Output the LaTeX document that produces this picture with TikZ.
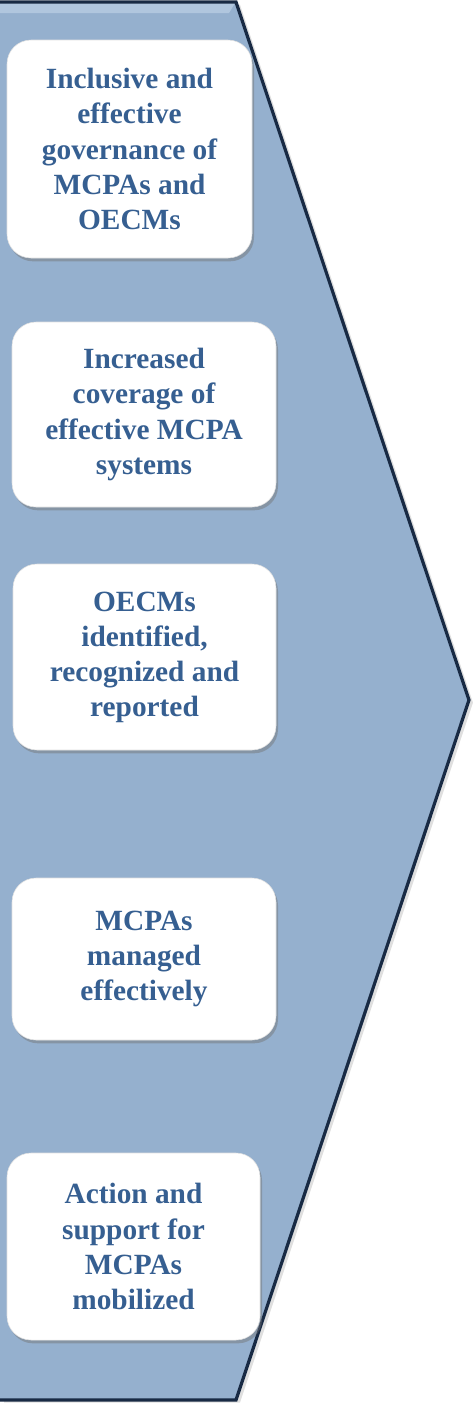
\documentclass[tikz,border=0pt]{standalone}
\usepackage{fontspec}
\setmainfont{Liberation Serif}
\usetikzlibrary{shadows}

\definecolor{chevronfill}{RGB}{149,176,206}
\definecolor{chevronedge}{RGB}{24,42,68}
\definecolor{bevellight}{RGB}{176,198,222}
\definecolor{outcometext}{RGB}{54,95,145}

\tikzset{
	outcome/.style={rectangle, rounded corners=18pt, fill=white, draw=black!12, line width=0.4pt,
		drop shadow={shadow xshift=1.5pt, shadow yshift=-2.5pt, opacity=.45, fill=black!55},
		align=center, inner sep=0pt, text=outcometext,
		font=\fontsize{22}{26.3}\selectfont\bfseries},
}

\begin{document}
\begin{tikzpicture}[x=0.75pt,y=0.75pt,yscale=-1,xscale=1]
		\useasboundingbox (0,0) rectangle (472,1404);
		
		%Shape: Chevron body
		\fill [chevronfill, drop shadow={shadow xshift=3pt, shadow yshift=-2pt, opacity=.25, fill=black!50}] (0,2) -- (236,2) -- (469,700) -- (236,1400) -- (0,1400) -- cycle ;
		%Shape: top bevel
		\fill [bevellight] (0,3) -- (235,3) -- (229,13) -- (0,13) -- cycle ;
		%Straight Lines: chevron outline
		\draw [chevronedge, line width=2.4pt, line join=miter] (0,2) -- (236,2) -- (469,700) -- (236,1400) -- (0,1400) ;
		
		% Text Node
		\node (govern) at (129.5,149) [outcome, minimum width=183.75pt, minimum height=163.5pt] {Inclusive and\\effective\\governance of\\MCPAs and\\OECMs};
		% Text Node
		\node (coverage) at (144,414.5) [outcome, minimum width=198pt, minimum height=138.75pt] {Increased\\coverage of\\effective MCPA\\systems};
		% Text Node
		\node (oecms) at (144.5,657) [outcome, minimum width=197.25pt, minimum height=139.5pt] {OECMs\\identified,\\recognized and\\reported};
		% Text Node
		\node (managed) at (144,959) [outcome, minimum width=198pt, minimum height=121.5pt] {MCPAs\\managed\\effectively};
		% Text Node
		\node (support) at (133.5,1246.5) [outcome, minimum width=189.75pt, minimum height=140.25pt] {Action and\\support for\\MCPAs\\mobilized};
		
\end{tikzpicture}
\end{document}
